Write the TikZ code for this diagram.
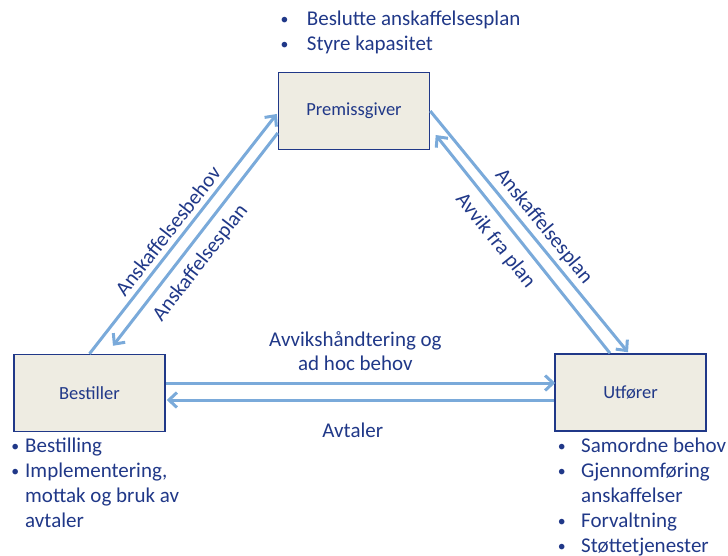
\documentclass[tikz,border=0pt]{standalone}
\usepackage{fontspec}
\setmainfont{Carlito}
\usetikzlibrary{arrows.meta,calc}
\definecolor{txt}{RGB}{32,56,136}
\definecolor{boxfill}{RGB}{238,236,226}
\definecolor{arrcol}{RGB}{122,170,218}
\newcommand\blt[1]{\makebox[0pt]{\raisebox{1pt}{\scalebox{0.75}{•}}}\hspace{#1}}
\begin{document}
\begin{tikzpicture}[x=1pt,y=-1pt,
  box/.style={draw=txt, line width=1.5pt, fill=boxfill, minimum width=151pt, minimum height=77pt, inner sep=0pt, text=txt, font=\fontsize{18.5}{22}\selectfont},
  flow/.style={draw=arrcol, line width=3pt, -{Straight Barb[length=8pt,width=15pt]}},
  lbl/.style={text=txt, font=\fontsize{21}{25}\selectfont, inner sep=0pt},
  lst/.style={lbl, align=left, anchor=base west}
]
\useasboundingbox (0,0) rectangle (728,556);
\node[box] (P) at (354,111) {Premissgiver};
\node[box] (B) at (89.5,393) {Bestiller};
\node[box] (U) at (630.5,392.5) {Utfører};

\draw[flow] (B.north) -- node[lbl, sloped, above=5pt, pos=0.477] {Anskaffelsesbehov} ($(P.west)+(-1,3)$);
\draw[flow] ($(P.west)+(0,22)$) -- node[lbl, sloped, below=8pt, pos=0.557] {Anskaffelsesplan} ($(B.north)+(23.5,-8)$);
\draw[flow] (P.east) -- node[lbl, sloped, above=4pt, pos=0.517] {Anskaffelsesplan} ($(U.north)+(-2.5,-1)$);
\draw[flow] ($(U.north)+(-20.5,0)$) -- node[lbl, sloped, below=9pt, pos=0.571] {Avvik fra plan} ($(P.east)+(5.5,24)$);
\draw[flow] ($(B.east)+(0,-10)$) -- node[lbl, align=center, above=11pt, pos=0.487, text depth=0pt, font=\fontsize{21}{24.5}\selectfont] {Avvikshåndtering og\\ad hoc behov} ($(U.west)+(1,-9.5)$);
\draw[flow] ($(U.west)+(0,7.5)$) -- node[lbl, below=21pt, pos=0.52] {Avtaler} ($(B.east)+(1,7)$);

\node[lst] (LP) at (284.3,50.7) {\blt{22.4pt}Beslutte anskaffelsesplan\\\blt{22.4pt}Styre kapasitet};
\node[lst] (LB) at (15,527.7) {\blt{10pt}Bestilling\\\blt{10pt}Implementering,\\\hspace*{10pt}mottak og bruk av\\\hspace*{10pt}avtaler};
\node[lst] (LU) at (561.7,552.7) {\blt{19.3pt}Samordne behov\\\blt{19.3pt}Gjennomføring\\\hspace*{19.3pt}anskaffelser\\\blt{19.3pt}Forvaltning\\\blt{19.3pt}Støttetjenester};
\end{tikzpicture}
\end{document}
